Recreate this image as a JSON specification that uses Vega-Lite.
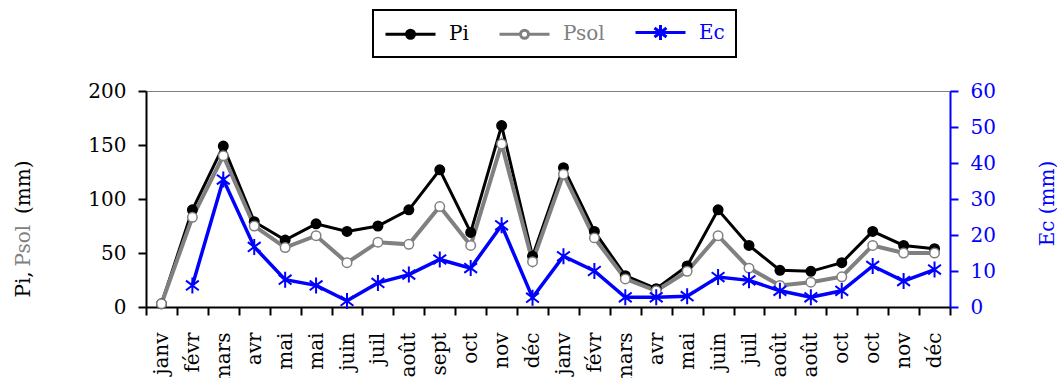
{
  "$schema": "https://vega.github.io/schema/vega-lite/v6.json",
  "width": 804,
  "height": 216,
  "autosize": {"type": "none"},
  "padding": {"left": 146, "top": 91, "right": 107, "bottom": 71},
  "background": "white",
  "config": {
    "font": "DejaVu Serif",
    "view": {"stroke": "#7f7f7f", "strokeWidth": 1},
    "legend": {"labelFont": "DejaVu Serif", "labelFontSize": 20},
    "axis": {
      "labelFont": "DejaVu Serif",
      "titleFont": "DejaVu Serif",
      "labelFontSize": 20,
      "titleFontSize": 20,
      "titleFontWeight": "normal",
      "grid": false,
      "tickSize": 8,
      "tickWidth": 2,
      "domainWidth": 2,
      "labelPadding": 12
    }
  },
  "data": {
    "values": [
      {"mois": "janv", "Pi": 3, "Psol": 3, "Ec": null},
      {"mois": "févr", "Pi": 90, "Psol": 83, "Ec": 6.0},
      {"mois": "mars", "Pi": 149, "Psol": 140, "Ec": 35.4},
      {"mois": "avr", "Pi": 79, "Psol": 75, "Ec": 16.7},
      {"mois": "mai", "Pi": 62, "Psol": 55, "Ec": 7.6},
      {"mois": "mai\u200b", "Pi": 77, "Psol": 66, "Ec": 6.0},
      {"mois": "juin", "Pi": 70, "Psol": 41, "Ec": 1.7},
      {"mois": "juil", "Pi": 75, "Psol": 60, "Ec": 6.7},
      {"mois": "août", "Pi": 90, "Psol": 58, "Ec": 9.0},
      {"mois": "sept", "Pi": 127, "Psol": 93, "Ec": 13.2},
      {"mois": "oct", "Pi": 69, "Psol": 57, "Ec": 10.8},
      {"mois": "nov", "Pi": 168, "Psol": 151, "Ec": 22.7},
      {"mois": "déc", "Pi": 47, "Psol": 42, "Ec": 2.6},
      {"mois": "janv\u200b", "Pi": 129, "Psol": 123, "Ec": 14.1},
      {"mois": "févr\u200b", "Pi": 70, "Psol": 64, "Ec": 10.0},
      {"mois": "mars\u200b", "Pi": 29, "Psol": 26, "Ec": 2.7},
      {"mois": "avr\u200b", "Pi": 17, "Psol": 15, "Ec": 2.7},
      {"mois": "mai\u200b\u200b", "Pi": 38, "Psol": 33, "Ec": 3.0},
      {"mois": "juin\u200b", "Pi": 90, "Psol": 66, "Ec": 8.3},
      {"mois": "juil\u200b", "Pi": 57, "Psol": 36, "Ec": 7.4},
      {"mois": "août\u200b", "Pi": 34, "Psol": 20, "Ec": 4.5},
      {"mois": "août\u200b\u200b", "Pi": 33, "Psol": 23, "Ec": 2.7},
      {"mois": "oct\u200b", "Pi": 41, "Psol": 28, "Ec": 4.5},
      {"mois": "oct\u200b\u200b", "Pi": 70, "Psol": 57, "Ec": 11.4},
      {"mois": "nov\u200b", "Pi": 57, "Psol": 50, "Ec": 7.2},
      {"mois": "déc\u200b", "Pi": 54, "Psol": 50, "Ec": 10.4}
    ]
  },
  "encoding": {
    "x": {
      "field": "mois",
      "type": "ordinal",
      "sort": null,
      "scale": {"paddingInner": 0, "paddingOuter": 0},
      "axis": {
        "title": null,
        "labelAngle": 270,
        "tickBand": "extent",
        "domainColor": "black",
        "tickColor": "black",
        "labelColor": "black",
        "labelPadding": 17
      }
    }
  },
  "layer": [
    {
      "transform": [{"fold": ["Pi", "Psol"], "as": ["serie", "valeur"]}],
      "encoding": {
        "y": {
          "field": "valeur",
          "type": "quantitative",
          "scale": {"domain": [0, 200]},
          "axis": {
            "orient": "left",
            "values": [0, 50, 100, 150, 200],
            "title": "Pi,\u00a0\u00a0\u00a0\u00a0\u00a0\u00a0\u00a0\u00a0\u00a0(mm)",
            "titleColor": "black",
            "titleAngle": 270,
            "titleAlign": "left",
            "titleBaseline": "middle",
            "titleX": -123,
            "titleY": 206,
            "domainColor": "black",
            "tickColor": "black",
            "labelColor": "black"
          }
        }
      },
      "layer": [
        {
          "mark": {"type": "line"},
          "encoding": {
            "color": {
              "field": "serie",
              "type": "nominal",
              "scale": {"domain": ["Pi", "Psol", "Ec"], "range": ["black", "#808080", "blue"]},
              "legend": {
                "title": null,
                "orient": "none",
                "legendX": 227,
                "legendY": -81,
                "direction": "horizontal",
                "labelFont": "DejaVu Serif",
                "labelFontSize": 20,
                "padding": 11,
                "strokeColor": "black",
                "fillColor": "white",
                "symbolSize": 400,
                "symbolStrokeWidth": 3,
                "labelOffset": 42,
                "columnPadding": 24,
                "encode": {
                  "legend": {"update": {"strokeWidth": {"value": 2}}},
                  "symbols": {
                    "update": {
                      "shape": {"signal": "datum.value === 'Pi' ? 'M-1,0H4M1.1,0A0.4,0.4 0 1,1 1.9,0A0.4,0.4 0 1,1 1.1,0Z' : datum.value === 'Psol' ? 'M-1,0H1.1M1.9,0H4M1.1,0A0.4,0.4 0 1,1 1.9,0A0.4,0.4 0 1,1 1.1,0Z' : 'M-1,0H4M1.5,-0.75V0.75M0.9,-0.45L2.1,0.45M0.9,0.45L2.1,-0.45'"},
                      "fill": {"signal": "datum.value === 'Pi' ? 'black' : datum.value === 'Psol' ? 'white' : 'transparent'"},
                      "stroke": {"scale": "color", "field": "value"},
                      "strokeWidth": {"value": 3},
                      "opacity": {"value": 1}
                    }
                  },
                  "labels": {
                    "update": {
                      "fill": {"scale": "color", "field": "value"},
                      "font": {"value": "DejaVu Serif"},
                      "fontSize": {"value": 20}
                    }
                  }
                }
              }
            },
            "strokeWidth": {
              "field": "serie",
              "type": "nominal",
              "scale": {"domain": ["Pi", "Psol"], "range": [3, 4]},
              "legend": null
            }
          }
        },
        {
          "mark": {"type": "point", "size": 90, "strokeWidth": 1.5, "opacity": 1},
          "encoding": {
            "fill": {
              "field": "serie",
              "type": "nominal",
              "scale": {"domain": ["Pi", "Psol"], "range": ["black", "white"]},
              "legend": null
            },
            "stroke": {
              "field": "serie",
              "type": "nominal",
              "scale": {"domain": ["Pi", "Psol"], "range": ["black", "#808080"]},
              "legend": null
            }
          }
        }
      ]
    },
    {
      "encoding": {
        "y": {
          "field": "Ec",
          "type": "quantitative",
          "scale": {"domain": [0, 60]},
          "axis": {
            "orient": "right",
            "values": [0, 10, 20, 30, 40, 50, 60],
            "title": "Ec (mm)",
            "titleColor": "blue",
            "titleAngle": 270,
            "titleAlign": "center",
            "titleBaseline": "middle",
            "titleX": 97,
            "titleY": 112,
            "domainColor": "blue",
            "tickColor": "blue",
            "labelColor": "blue",
            "encode": {"ticks": {"update": {"x": {"value": -8}}}}
          }
        }
      },
      "layer": [
        {
          "mark": {"type": "line", "strokeWidth": 3.5},
          "encoding": {
            "color": {"datum": "Ec", "type": "nominal"}
          }
        },
        {
          "mark": {
            "type": "point",
            "shape": "M0,-1V1M-0.8,-0.6L0.8,0.6M-0.8,0.6L0.8,-0.6",
            "size": 256,
            "strokeWidth": 2,
            "stroke": "blue",
            "filled": false,
            "opacity": 1
          }
        }
      ]
    },
    {
      "mark": {"type": "point", "opacity": 0},
      "encoding": {
        "y": {
          "field": "Psol",
          "type": "quantitative",
          "scale": {"domain": [0, 200]},
          "axis": {
            "orient": "left",
            "labels": false,
            "ticks": false,
            "domain": false,
            "title": "Psol",
            "titleColor": "#808080",
            "titleAngle": 270,
            "titleAlign": "left",
            "titleBaseline": "middle",
            "titleX": -123,
            "titleY": 175
          }
        }
      }
    }
  ],
  "resolve": {"scale": {"y": "independent"}}
}
